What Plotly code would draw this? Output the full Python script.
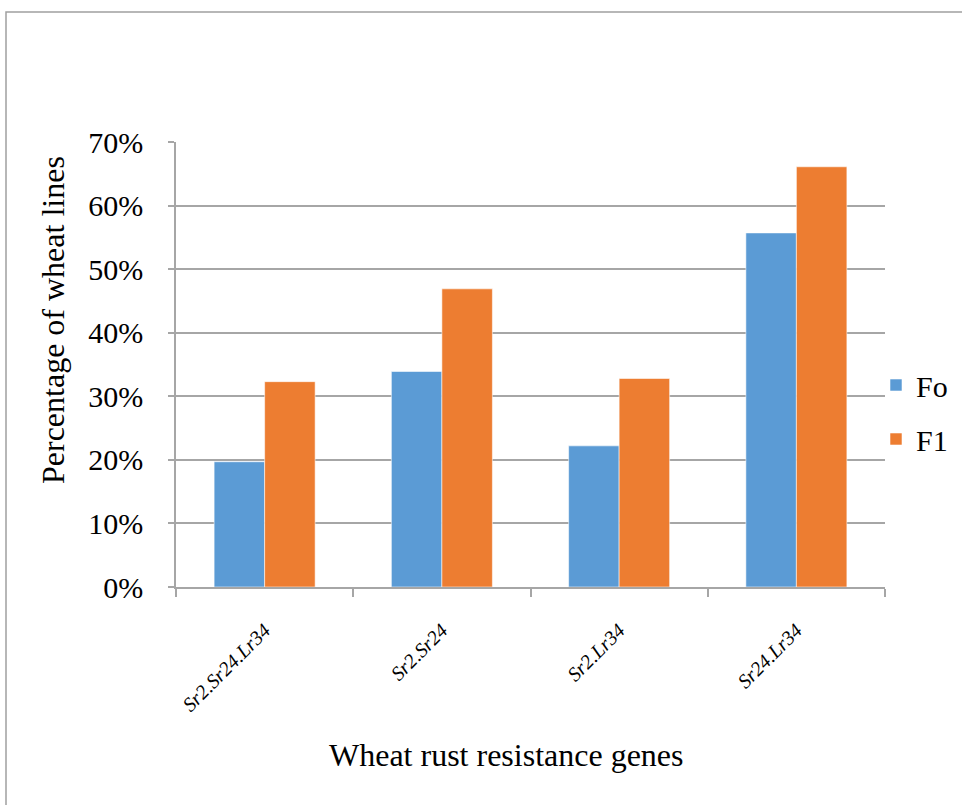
import plotly.graph_objects as go

# Wheat lines carrying each rust resistance gene combination
genes = ["Sr2.Sr24.Lr34", "Sr2.Sr24", "Sr2.Lr34", "Sr24.Lr34"]
fo_pct = [0.197, 0.339, 0.222, 0.557]
f1_pct = [0.323, 0.469, 0.328, 0.661]

series_names = ["Fo", "F1"]
series_colors = ["#5B9BD5", "#ED7D31"]

y_ticks = [0, 0.1, 0.2, 0.3, 0.4, 0.5, 0.6, 0.7]

x_title = "Wheat rust resistance genes"
y_title = "Percentage of wheat lines"

serif = "Liberation Serif, Times New Roman, serif"
grid_grey = "#A6A6A6"

fig = go.Figure()
for name, vals, color in zip(series_names, [fo_pct, f1_pct], series_colors):
    fig.add_trace(go.Bar(
        x=genes, y=vals, name=name, legendgroup=name,
        marker=dict(color=color, line=dict(color="rgba(255,255,255,0.55)", width=1)),
    ))

W, H = 962, 805
L, R, T, B = 176, 77, 142, 218
pw, ph = W - L - R, H - T - B

def px_x(x):
    return (x - L) / pw

def px_y(y):
    return (H - B - y) / ph

fig.update_layout(
    width=W, height=H,
    margin=dict(l=L, r=R, t=T, b=B, pad=0, autoexpand=False),
    paper_bgcolor="white", plot_bgcolor="white",
    barmode="group", bargap=0.43, bargroupgap=0,
    font=dict(family=serif, color="black"),
    showlegend=True,
    legend=dict(
        x=px_x(876), xanchor="left", y=px_y(412), yanchor="middle",
        font=dict(size=30, family=serif, color="black"),
        traceorder="grouped", tracegroupgap=12,
        bgcolor="rgba(0,0,0,0)", itemwidth=30,
    ),
    xaxis=dict(
        type="category",
        showline=True, linecolor=grid_grey, linewidth=1.5,
        ticks="outside", tickson="boundaries", ticklen=8, tickcolor=grid_grey, tickwidth=1.5,
        tickangle=-45,
        tickmode="array", tickvals=genes, ticktext=[f"<i>{g}</i>" for g in genes],
        tickfont=dict(size=20, family=serif, color="black", style="italic"),
        ticklabelstandoff=22,
        showgrid=False,
    ),
    yaxis=dict(
        range=[0, 0.7], tickvals=y_ticks, tickformat=".0%",
        showline=True, linecolor=grid_grey, linewidth=1.5,
        ticks="outside", ticklen=6, tickcolor=grid_grey, tickwidth=1.5,
        tickfont=dict(size=30, family=serif, color="black"),
        ticklabelstandoff=19,
        showgrid=True, gridcolor=grid_grey, gridwidth=1.5,
        zeroline=False,
    ),
    annotations=[
        dict(text=x_title, xref="paper", yref="paper", x=px_x(506), y=px_y(755),
             xanchor="center", yanchor="middle", showarrow=False,
             font=dict(size=32, family=serif, color="black")),
        dict(text=y_title, xref="paper", yref="paper", x=px_x(53), y=px_y(320),
             xanchor="center", yanchor="middle", showarrow=False, textangle=-90,
             font=dict(size=32, family=serif, color="black")),
    ],
    shapes=[dict(
        type="rect", xref="paper", yref="paper",
        x0=px_x(6), x1=px_x(975), y0=px_y(820), y1=px_y(12),
        line=dict(color="#A0A0A0", width=1.5), fillcolor="rgba(0,0,0,0)", layer="below",
    )],
)

fig.write_html("out.html")
